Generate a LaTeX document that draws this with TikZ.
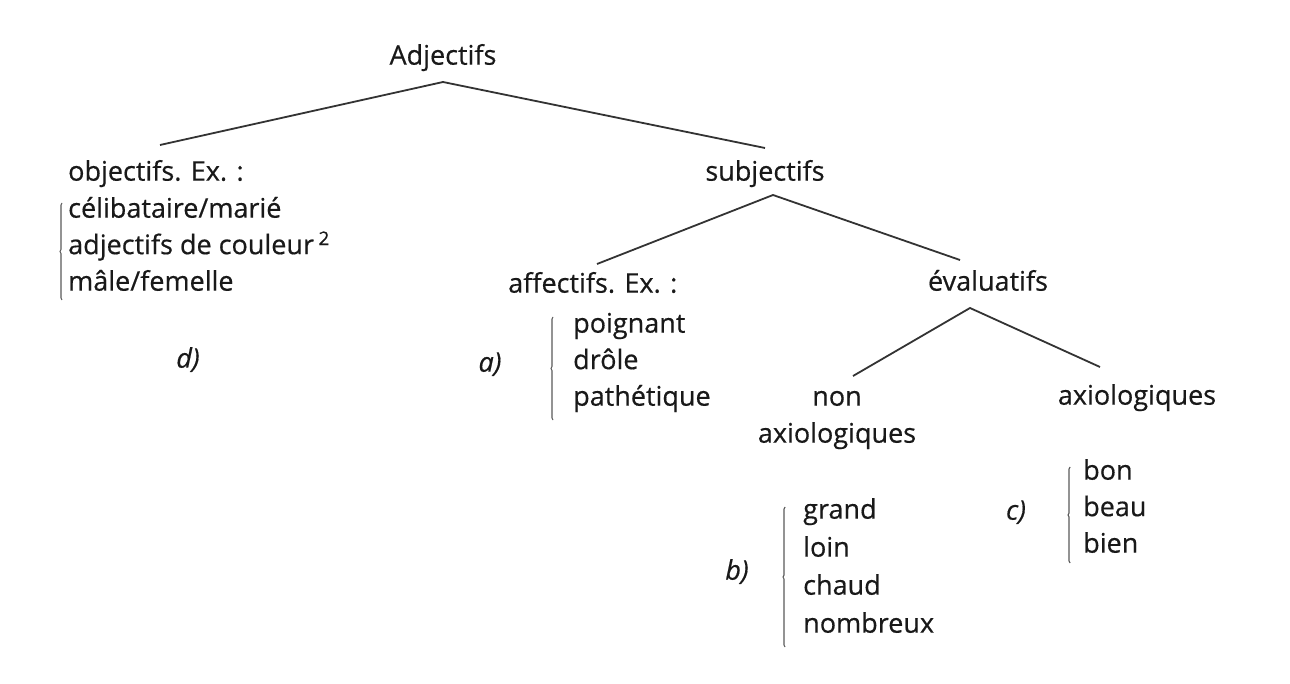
\documentclass[tikz,border=0pt]{standalone}
\usepackage{fontspec}
\setmainfont{Open Sans}[FakeBold=0.5]
\usetikzlibrary{decorations.pathreplacing}

\begin{document}
\begin{tikzpicture}[x=1pt,y=-1pt,
      every node/.style={font=\fontsize{27}{30}\selectfont, inner sep=0pt, text=black!90},
      word/.style={anchor=mid west},
      head/.style={anchor=mid},
      renvoi/.style={anchor=mid, font=\fontsize{27}{30}\selectfont\itshape},
      branch/.style={line width=1.8pt, black!80},
      bracket/.style={line width=1.1pt, black!65, decorate,
        decoration={brace, amplitude=2pt}}]
    \useasboundingbox (0,0) rectangle (1290,684);

    % tree labels
    \node[head] (adj) at (443,62) {Adjectifs};
    \node[word] (obj) at (68,178) {objectifs. Ex. :};
    \node[head] (subj) at (765,178) {subjectifs};
    \node[word] (aff) at (508,290) {affectifs. Ex. :};
    \node[head] (eval) at (988,288) {évaluatifs};
    \node[head] (nonax) at (837,403) {non};
    \node[head] (nonax2) at (837,440) {axiologiques};
    \node[head] (ax) at (1137,402) {axiologiques};

    % branch points
    \coordinate (adj-foot) at (443,82);
    \coordinate (obj-top) at (160,145);
    \coordinate (subj-top) at (765,148);
    \coordinate (subj-foot) at (773,195);
    \coordinate (aff-top) at (597,264);
    \coordinate (eval-top) at (960,260);
    \coordinate (eval-foot) at (970,308);
    \coordinate (nonax-top) at (853,376);
    \coordinate (ax-top) at (1100,367);

    \draw[branch] (obj-top) -- (adj-foot) -- (subj-top);
    \draw[branch] (aff-top) -- (subj-foot) -- (eval-top);
    \draw[branch] (nonax-top) -- (eval-foot) -- (ax-top);

    % examples
    \foreach \w [count=\i] in {célibataire/marié,
        {adjectifs de couleur\,\textsuperscript{2}}, mâle/femelle}
      \node[word] (d\i) at (68,{215+36.5*(\i-1)}) {\w};
    \foreach \w [count=\i] in {poignant,drôle,pathétique}
      \node[word] (a\i) at (573,{330+36.5*(\i-1)}) {\w};
    \foreach \w [count=\i] in {grand,loin,chaud,nombreux}
      \node[word] (b\i) at (803,{516+38*(\i-1)}) {\w};
    \foreach \w [count=\i] in {bon,beau,bien}
      \node[word] (c\i) at (1083,{477+36.5*(\i-1)}) {\w};

    \draw[bracket] (62,300) -- (62,203);
    \draw[bracket] (553,420) -- (553,317);
    \draw[bracket] (785,647) -- (785,507);
    \draw[bracket] (1070,563) -- (1070,467);

    \node[renvoi] (d) at (188,365) {d)};
    \node[renvoi] (a) at (490,369) {a)};
    \node[renvoi] (b) at (737,577) {b)};
    \node[renvoi] (c) at (1016,517) {c)};
  \end{tikzpicture}
\end{document}
